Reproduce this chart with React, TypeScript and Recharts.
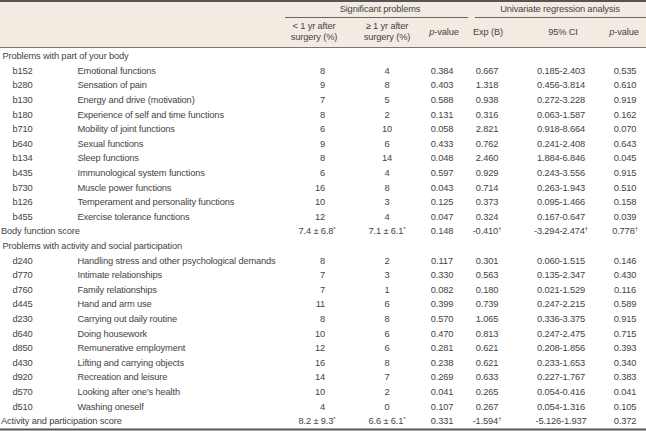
import React from 'react';
import { ScatterChart, Scatter, XAxis, YAxis, ReferenceArea, ReferenceLine } from 'recharts';

// ---------- data ----------
const sectionTitles = ['Problems with part of your body', 'Problems with activity and social participation'];

const bodyCodes = ['b152', 'b280', 'b130', 'b180', 'b710', 'b640', 'b134', 'b435', 'b730', 'b126', 'b455'];
const bodyNames = [
  'Emotional functions', 'Sensation of pain', 'Energy and drive (motivation)', 'Experience of self and time functions',
  'Mobility of joint functions', 'Sexual functions', 'Sleep functions', 'Immunological system functions',
  'Muscle power functions', 'Temperament and personality functions', 'Exercise tolerance functions',
];
const bodyLt1 = ['8', '9', '7', '8', '6', '9', '8', '6', '16', '10', '12'];
const bodyGe1 = ['4', '8', '5', '2', '10', '6', '14', '4', '8', '3', '4'];
const bodyP = ['0.384', '0.403', '0.588', '0.131', '0.058', '0.433', '0.048', '0.597', '0.043', '0.125', '0.047'];
const bodyExp = ['0.667', '1.318', '0.938', '0.316', '2.821', '0.762', '2.460', '0.929', '0.714', '0.373', '0.324'];
const bodyCI = ['0.185-2.403', '0.456-3.814', '0.272-3.228', '0.063-1.587', '0.918-8.664', '0.241-2.408', '1.884-6.846', '0.243-3.556', '0.263-1.943', '0.095-1.466', '0.167-0.647'];
const bodyPReg = ['0.535', '0.610', '0.919', '0.162', '0.070', '0.643', '0.045', '0.915', '0.510', '0.158', '0.039'];

const actCodes = ['d240', 'd770', 'd760', 'd445', 'd230', 'd640', 'd850', 'd430', 'd920', 'd570', 'd510'];
const actNames = [
  'Handling stress and other psychological demands', 'Intimate relationships', 'Family relationships', 'Hand and arm use',
  'Carrying out daily routine', 'Doing housework', 'Remunerative employment', 'Lifting and carrying objects',
  'Recreation and leisure', 'Looking after one\u2019s health', 'Washing oneself',
];
const actLt1 = ['8', '7', '7', '11', '8', '10', '12', '16', '14', '10', '4'];
const actGe1 = ['2', '3', '1', '6', '8', '6', '6', '8', '7', '2', '0'];
const actP = ['0.117', '0.330', '0.082', '0.399', '0.570', '0.470', '0.281', '0.238', '0.269', '0.041', '0.107'];
const actExp = ['0.301', '0.563', '0.180', '0.739', '1.065', '0.813', '0.621', '0.621', '0.633', '0.265', '0.267'];
const actCI = ['0.060-1.515', '0.135-2.347', '0.021-1.529', '0.247-2.215', '0.336-3.375', '0.247-2.475', '0.208-1.856', '0.233-1.653', '0.227-1.767', '0.054-0.416', '0.054-1.316'];
const actPReg = ['0.146', '0.430', '0.116', '0.589', '0.915', '0.715', '0.393', '0.340', '0.383', '0.041', '0.105'];

const scoreNames = ['Body function score', 'Activity and participation score'];
const scoreLt1 = ['7.4 \u00b1 6.8*', '8.2 \u00b1 9.3*'];
const scoreGe1 = ['7.1 \u00b1 6.1*', '6.6 \u00b1 6.1*'];
const scoreP = ['0.148', '0.331'];
const scoreExp = ['-0.410\u2020', '-1.594\u2020'];
const scoreCI = ['-3.294-2.474\u2020', '-5.126-1.937'];
const scorePReg = ['0.778\u2020', '0.372'];

const groupHeaders = ['Significant problems', 'Univariate regression analysis'];
const colHeadersTop = ['< 1 yr after', '\u2265 1 yr after'];
const colHeadersBottom = ['surgery (%)', 'surgery (%)'];
const singleHeaders = ['p-value', 'Exp (B)', '95% CI', 'p-value'];

// ---------- layout ----------
const W = 646;
const H = 431;
const FIRST_ROW = 56;
const PITCH = 14.6;
const FONT = 'Liberation Sans';
const FS = 9.3;
const COLOR = '#444';

const X = {
  section: 2.5,
  code: 12.5,
  name: 77.5,
  lt1End: 325,
  lt1Mid: 317,
  ge1: 387,
  p: 442,
  exp: 487,
  ci: 561,
  preg: 625,
};

// ---------- build table rows ----------
type Row = { kind: 'section' | 'item' | 'score'; cells: string[] };
const rows: Row[] = [];
rows.push({ kind: 'section', cells: [sectionTitles[0]] });
bodyCodes.forEach((c, i) => rows.push({ kind: 'item', cells: [c, bodyNames[i], bodyLt1[i], bodyGe1[i], bodyP[i], bodyExp[i], bodyCI[i], bodyPReg[i]] }));
rows.push({ kind: 'score', cells: [scoreNames[0], scoreLt1[0], scoreGe1[0], scoreP[0], scoreExp[0], scoreCI[0], scorePReg[0]] });
rows.push({ kind: 'section', cells: [sectionTitles[1]] });
actCodes.forEach((c, i) => rows.push({ kind: 'item', cells: [c, actNames[i], actLt1[i], actGe1[i], actP[i], actExp[i], actCI[i], actPReg[i]] }));
rows.push({ kind: 'score', cells: [scoreNames[1], scoreLt1[1], scoreGe1[1], scoreP[1], scoreExp[1], scoreCI[1], scorePReg[1]] });

type Pt = { x: number; y: number; text: string; anchor: 'start' | 'middle' | 'end' };
const cells: Pt[] = [];
rows.forEach((r, i) => {
  const y = FIRST_ROW + i * PITCH;
  if (r.kind === 'section') {
    cells.push({ x: X.section, y, text: r.cells[0], anchor: 'start' });
  } else if (r.kind === 'item') {
    const [code, name, a, b, p, e, ci, pr] = r.cells;
    cells.push({ x: X.code, y, text: code, anchor: 'start' });
    cells.push({ x: X.name, y, text: name, anchor: 'start' });
    cells.push({ x: X.lt1End, y, text: a, anchor: 'end' });
    cells.push({ x: X.ge1, y, text: b, anchor: 'middle' });
    cells.push({ x: X.p, y, text: p, anchor: 'middle' });
    cells.push({ x: X.exp, y, text: e, anchor: 'middle' });
    cells.push({ x: X.ci, y, text: ci, anchor: 'middle' });
    cells.push({ x: X.preg, y, text: pr, anchor: 'middle' });
  } else {
    const [name, a, b, p, e, ci, pr] = r.cells;
    cells.push({ x: X.section - 1.5, y, text: name, anchor: 'start' });
    cells.push({ x: X.lt1Mid, y, text: a, anchor: 'middle' });
    cells.push({ x: X.ge1, y, text: b, anchor: 'middle' });
    cells.push({ x: X.p, y, text: p, anchor: 'middle' });
    cells.push({ x: X.exp, y, text: e, anchor: 'middle' });
    cells.push({ x: X.ci, y, text: ci, anchor: 'middle' });
    cells.push({ x: X.preg, y, text: pr, anchor: 'middle' });
  }
});

const headerCells: Pt[] = [
  { x: 380, y: 8.5, text: groupHeaders[0], anchor: 'middle' },
  { x: 560, y: 8.5, text: groupHeaders[1], anchor: 'middle' },
  { x: 314, y: 26, text: colHeadersTop[0], anchor: 'middle' },
  { x: 387, y: 26, text: colHeadersTop[1], anchor: 'middle' },
  { x: 314, y: 37, text: colHeadersBottom[0], anchor: 'middle' },
  { x: 387, y: 37, text: colHeadersBottom[1], anchor: 'middle' },
  { x: 444, y: 31.5, text: singleHeaders[0], anchor: 'middle' },
  { x: 488, y: 31.5, text: singleHeaders[1], anchor: 'middle' },
  { x: 563, y: 31.5, text: singleHeaders[2], anchor: 'middle' },
  { x: 624, y: 31.5, text: singleHeaders[3], anchor: 'middle' },
];

// ---------- rendering ----------
const renderContent = (text: string) => {
  if (text === 'p-value') {
    return [<tspan key="p" fontStyle="italic">p</tspan>, <tspan key="v">-value</tspan>];
  }
  const last = text.slice(-1);
  if (last === '*' || last === '\u2020') {
    return [
      <tspan key="m">{text.slice(0, -1)}</tspan>,
      <tspan key="s" fontSize={6} dy={-3.5}>{last}</tspan>,
    ];
  }
  return text;
};

const CellShape = (props: any) => {
  const { cx, cy, payload } = props;
  if (cx == null || cy == null) return <g />;
  return (
    <text
      x={cx}
      y={cy}
      dy="0.35em"
      textAnchor={payload.anchor}
      fontFamily={FONT}
      fontSize={FS}
      letterSpacing={-0.15}
      fill={COLOR}
    >
      {renderContent(payload.text)}
    </text>
  );
};

export default function App() {
  return (
    <div style={{ width: W, height: H, background: '#fff' }}>
      <style>{'body{margin:0;}'}</style>
      <ScatterChart width={W} height={H} margin={{ top: 0, right: 0, bottom: 0, left: 0 }}>
        <XAxis type="number" dataKey="x" domain={[0, W]} hide allowDataOverflow />
        <YAxis type="number" dataKey="y" domain={[0, H]} reversed hide allowDataOverflow />
        <ReferenceArea x1={0} x2={W} y1={0} y2={47.5} fill="#f3ebe1" fillOpacity={1} stroke="none" ifOverflow="visible" />
        <ReferenceLine y={1} stroke="#555" strokeWidth={2} ifOverflow="visible" />
        <ReferenceLine y={47.5} stroke="#777" strokeWidth={1} ifOverflow="visible" />
        <ReferenceLine segment={[{ x: 285, y: 17.5 }, { x: 468, y: 17.5 }]} stroke="#666" strokeWidth={1} ifOverflow="visible" />
        <ReferenceLine segment={[{ x: 475, y: 17.5 }, { x: W, y: 17.5 }]} stroke="#666" strokeWidth={1} ifOverflow="visible" />
        <ReferenceLine y={429.5} stroke="#555" strokeWidth={2} ifOverflow="visible" />
        <Scatter data={headerCells} shape={CellShape} isAnimationActive={false} />
        <Scatter data={cells} shape={CellShape} isAnimationActive={false} />
      </ScatterChart>
    </div>
  );
}
